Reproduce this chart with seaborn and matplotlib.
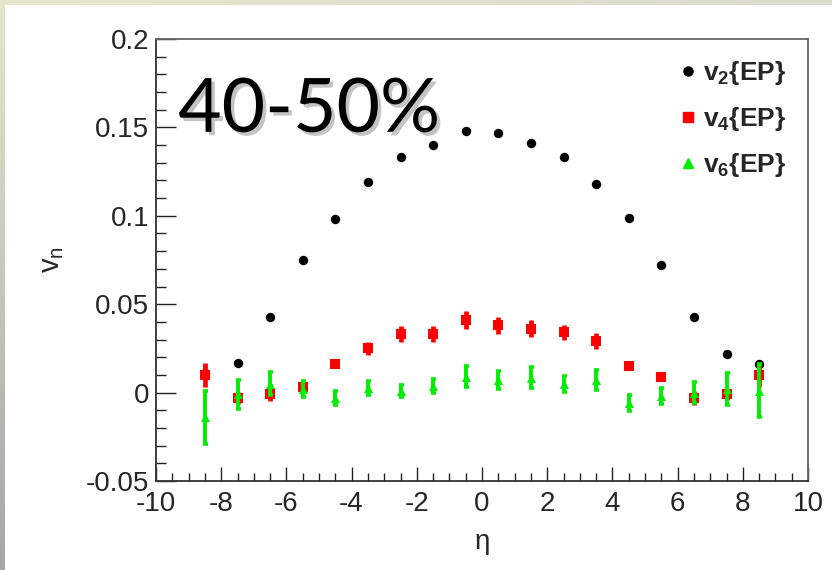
import numpy as np
import pandas as pd
import matplotlib
matplotlib.use("Agg")
import matplotlib.pyplot as plt
import matplotlib.patheffects as pe
from matplotlib.lines import Line2D
from matplotlib.colors import LinearSegmentedColormap
from matplotlib.ticker import MultipleLocator
import seaborn as sns

# Pseudorapidity bin centres
eta = [-8.5, -7.5, -6.5, -5.5, -4.5, -3.5, -2.5, -1.5, -0.5,
       0.5, 1.5, 2.5, 3.5, 4.5, 5.5, 6.5, 7.5, 8.5]

# Event-plane flow harmonics, 40-50% centrality
v2 = [0.011, 0.017, 0.043, 0.075, 0.098, 0.119, 0.133, 0.140, 0.148,
      0.147, 0.141, 0.133, 0.118, 0.099, 0.072, 0.043, 0.022, 0.016]
v2_err = [0.001] * 18

v4 = [0.010, -0.003, -0.001, 0.003, 0.016, 0.025, 0.033, 0.033, 0.041,
      0.038, 0.036, 0.034, 0.029, 0.015, 0.009, -0.003, -0.001, 0.010]
v4_err = [0.007, 0.0035, 0.0035, 0.002, 0.002, 0.0035, 0.0045, 0.0045, 0.005,
          0.005, 0.0048, 0.0045, 0.0045, 0.002, 0.002, 0.0038, 0.0033, 0.007]

v6 = [-0.014, -0.001, 0.005, 0.002, -0.003, 0.0025, 0.001, 0.0035, 0.009,
      0.007, 0.0085, 0.005, 0.007, -0.006, -0.002, 0.000, 0.002, 0.001]
v6_err = [0.015, 0.008, 0.0065, 0.0045, 0.004, 0.004, 0.0035, 0.004, 0.006,
          0.005, 0.006, 0.0045, 0.0055, 0.0045, 0.0047, 0.006, 0.009, 0.015]

series_names = ["v2", "v4", "v6"]
series_labels = [r"$\mathbf{v_{2}\{EP\}}$", r"$\mathbf{v_{4}\{EP\}}$", r"$\mathbf{v_{6}\{EP\}}$"]
centrality_label = "40-50%"

frames = []
for name, vals, errs in zip(series_names, [v2, v4, v6], [v2_err, v4_err, v6_err]):
    frames.append(pd.DataFrame({"eta": eta, "vn": vals, "err": errs, "harmonic": name}))
df = pd.concat(frames, ignore_index=True)

colors = {"v2": "#000000", "v4": "#ff0000", "v6": "#00ee00"}
markers = {"v2": "o", "v4": "s", "v6": "^"}
msize = {"v2": 46, "v4": 48, "v6": 42}
elw = {"v2": 1.0, "v4": 3.4, "v6": 2.8}
caps = {"v2": 0, "v4": 0, "v6": 1.8}

sns.set_theme(style="white")
plt.rcParams["font.family"] = ["Liberation Sans", "DejaVu Sans"]
plt.rcParams["mathtext.fontset"] = "custom"
plt.rcParams["mathtext.rm"] = "Liberation Sans"
plt.rcParams["mathtext.it"] = "Liberation Sans:italic"
plt.rcParams["mathtext.bf"] = "Liberation Sans:bold"

fig = plt.figure(figsize=(8.32, 5.70), dpi=100, facecolor="white")
ax = fig.add_axes([156 / 832, 1 - 481 / 570, 652 / 832, 442 / 570])
ax.set_facecolor("white")

for i, name in enumerate(series_names):
    sub = df[df["harmonic"] == name]
    ax.errorbar(sub["eta"], sub["vn"], yerr=sub["err"], fmt="none",
                ecolor=colors[name], elinewidth=elw[name], capsize=caps[name],
                capthick=2.6, zorder=2 + i)
    sns.scatterplot(data=sub, x="eta", y="vn", ax=ax, color=colors[name],
                    marker=markers[name], s=msize[name], linewidth=0,
                    legend=False, zorder=2.5 + i)

ax.set_xlim(-10, 10)
ax.set_ylim(-0.05, 0.2)
ax.xaxis.set_minor_locator(MultipleLocator(0.5))
ax.yaxis.set_minor_locator(MultipleLocator(0.01))
ax.set_xticks(np.arange(-10, 11, 2))
ax.set_xticklabels([str(v) for v in range(-10, 11, 2)])
ax.set_yticks([-0.05, 0, 0.05, 0.1, 0.15, 0.2])
ax.set_yticklabels(["-0.05", "0", "0.05", "0.1", "0.15", "0.2"])

ax.tick_params(axis="both", which="both", direction="in", color="#222222",
               width=1.0, labelsize=20, top=False, right=False,
               bottom=True, left=True)
ax.tick_params(axis="y", which="major", length=14.5, pad=5)
ax.tick_params(axis="y", which="minor", length=7.5)
ax.tick_params(axis="x", which="major", length=10, pad=7)
ax.tick_params(axis="x", which="minor", length=5.5)
# lower the bottom y label slightly, as the frame corner is crowded
ax.get_yticklabels()[0].set_y(-0.0515)

for side, sp in ax.spines.items():
    sp.set_visible(True)
    sp.set_linewidth(1.3)
    sp.set_color("#333333" if side in ("left", "bottom") else "#666666")

ax.set_xlabel("η", fontsize=20, labelpad=9)
ax.set_ylabel(r"$\mathrm{v_{n}}$", fontsize=21, labelpad=14)

ax.text(0.034, 0.79, centrality_label, transform=ax.transAxes,
        fontsize=54, family=["Lato", "DejaVu Sans"], color="black",
        ha="left", va="baseline",
        path_effects=[pe.withSimplePatchShadow(offset=(2.5, -2.5),
                                               shadow_rgbFace="#8a8a8a",
                                               alpha=0.5)])

handles = [Line2D([], [], linestyle="none", marker=markers[n], color=colors[n],
                  markersize=6.5) for n in series_names]
ax.legend(handles, series_labels, loc="upper left",
          bbox_to_anchor=(0.788, 0.978), frameon=False, fontsize=19,
          handlelength=0.6, handletextpad=0.25, labelspacing=0.68,
          borderaxespad=0.0)

# slide border strips
top_cmap = LinearSegmentedColormap.from_list("topband", ["#e7e6cc", "#dcdccf"])
left_cmap = LinearSegmentedColormap.from_list("leftband", ["#e7e6cc", "#a6a6a6"])
ax_top = fig.add_axes([0, 1 - 5 / 570, 1, 5 / 570])
ax_top.imshow(np.linspace(0, 1, 256)[None, :], aspect="auto", cmap=top_cmap)
ax_top.axis("off")
ax_left = fig.add_axes([0, 0, 5 / 832, 1])
ax_left.imshow(np.linspace(0, 1, 256)[:, None], aspect="auto", cmap=left_cmap)
ax_left.axis("off")

fig.savefig("out.png", dpi=100, facecolor="white")
